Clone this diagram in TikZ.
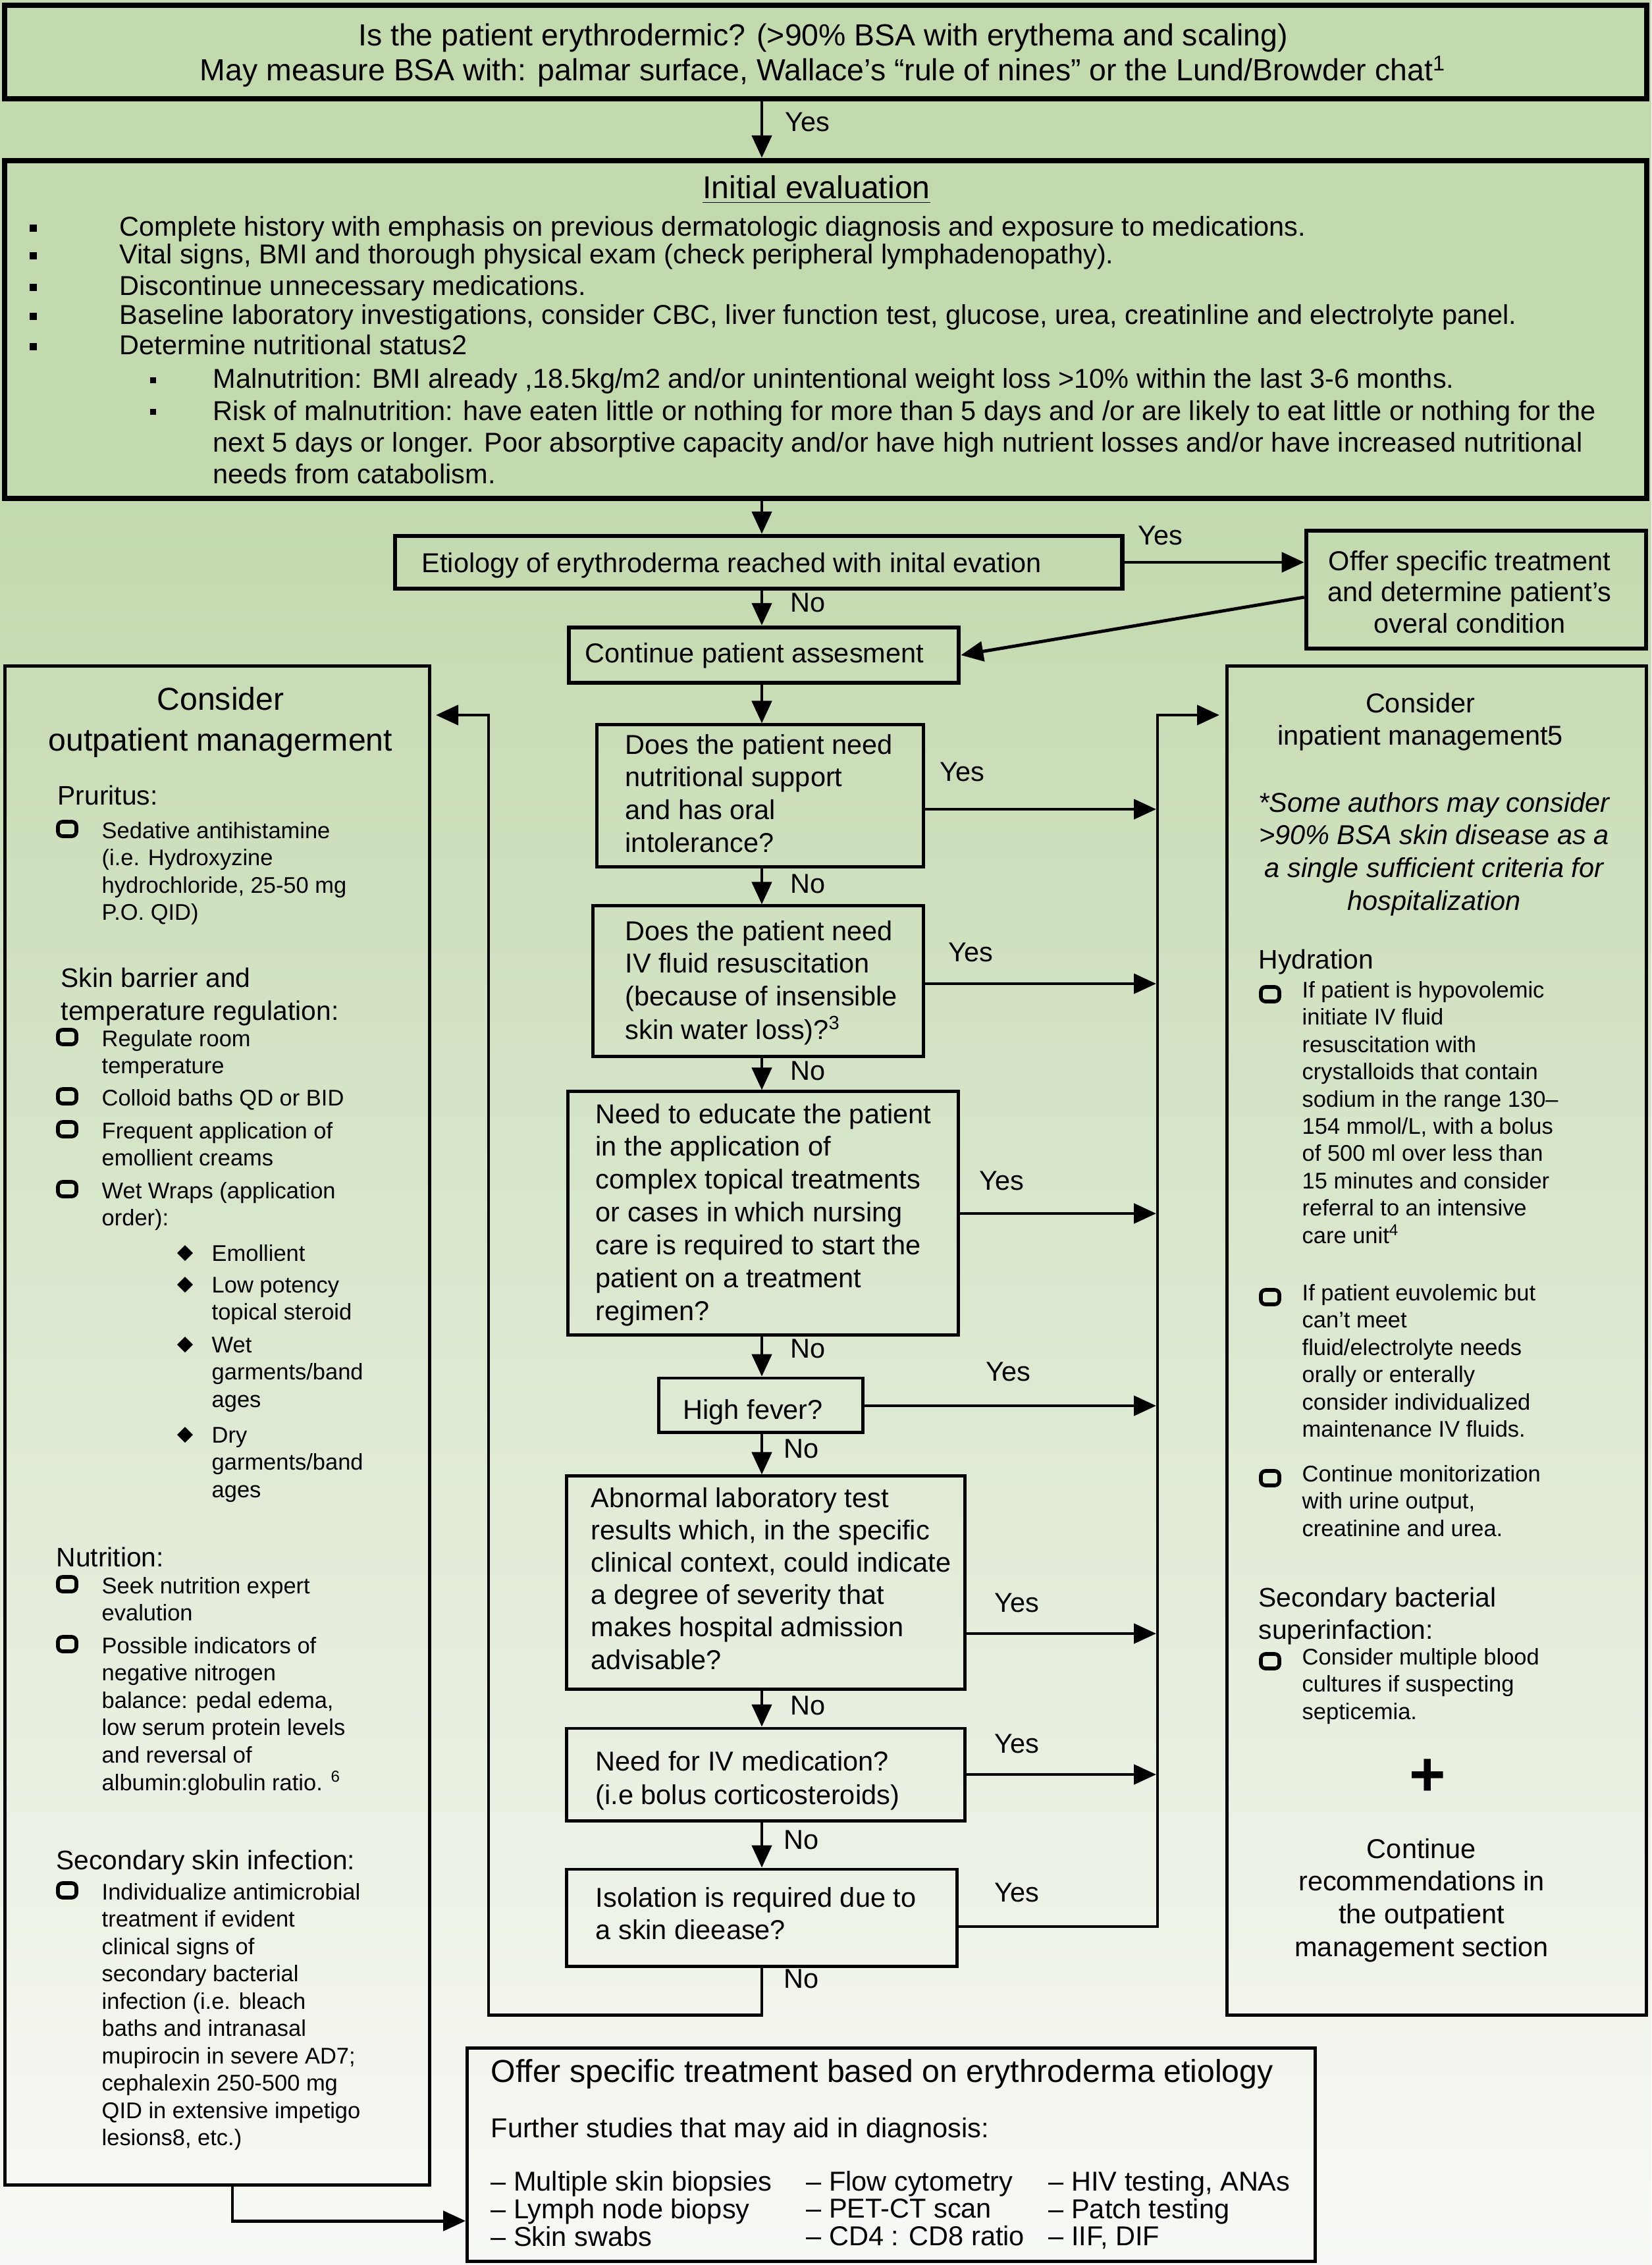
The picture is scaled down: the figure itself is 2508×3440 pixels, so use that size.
\documentclass[tikz,border=0pt]{standalone}
\usepackage{fontspec}
\setmainfont{Liberation Sans}
\usetikzlibrary{arrows.meta}
\definecolor{bgtop}{RGB}{195,217,174}
\definecolor{bgbot}{RGB}{248,249,246}
\newcommand\fTop{\fontsize{13.2}{14.2}\selectfont}
\newcommand\fMain{\fontsize{11.8}{14.2}\selectfont}
\newcommand\fInit{\fontsize{11.8}{13.6}\selectfont}
\newcommand\fSmall{\fontsize{9.8}{11.8}\selectfont}
\newcommand\fHead{\fontsize{11.6}{14.4}\selectfont}
\newcommand\fTitle{\fontsize{13.7}{17.9}\selectfont}
\newcommand\ml[1]{\begin{tabular}[t]{@{}l@{}}#1\end{tabular}}
\newcommand\mlc[1]{\begin{tabular}[t]{@{}c@{}}#1\end{tabular}}
\newcommand\cbx[2]{\draw[line width=1.6pt, rounded corners=2pt] (#1,#2) ++(-14,-11) rectangle ++(28,22);}
\newcommand\dmd[2]{\fill (#1,#2) ++(0,-12) -- ++(12,12) -- ++(-12,12) -- ++(-12,-12) -- cycle;}
\newcommand\sqb[2]{\fill (#1,#2) ++(-5.5,-5.5) rectangle ++(11,11);}
\newcommand\sqs[2]{\fill (#1,#2) ++(-4.5,-4.5) rectangle ++(9,9);}
\begin{document}
\begin{tikzpicture}[x=0.01cm,y=-0.01cm,
  bigbox/.style={draw=black, line width=2.4pt, inner sep=0pt},
  midbox/.style={draw=black, line width=1.8pt, inner sep=0pt},
  box/.style={draw=black, line width=1.4pt, inner sep=0pt},
  arr/.style={line width=1.4pt, -{Triangle[length=0.34cm,width=0.30cm]}},
  lbl/.style={font=\fMain, inner sep=0pt, anchor=mid west},
  txt/.style={inner sep=0pt, anchor=base west},
  ctxt/.style={inner sep=0pt, anchor=base},
  line/.style={inner sep=0pt, anchor=mid west},
]
\useasboundingbox (0,0) rectangle (2508,3440);
% background
\fill[bgtop] (0,0) rectangle (2508,760);
\shade[top color=bgtop, bottom color=bgbot] (0,760) rectangle (2508,3440);

% ---------- boxes ----------
\node[bigbox, minimum width=24.92cm, minimum height=1.42cm] (top) at (1254,79) {};
\node[bigbox, minimum width=24.92cm, minimum height=5.13cm] (init) at (1254,500.5) {};
\node[midbox, minimum width=11.04cm, minimum height=0.80cm] (etiol) at (1152,854) {};
\node[midbox, minimum width=5.16cm, minimum height=1.79cm] (offer) at (2242,895.5) {};
\node[midbox, minimum width=5.92cm, minimum height=0.84cm] (cont) at (1160,995) {};
\node[box, minimum width=6.44cm, minimum height=23.06cm] (left) at (330,2165) {};
\node[box, minimum width=6.36cm, minimum height=20.48cm] (right) at (2182,2036) {};
\node[box, minimum width=4.95cm, minimum height=2.15cm] (q1) at (1154.5,1208.5) {};
\node[box, minimum width=5.01cm, minimum height=2.28cm] (q2) at (1151.5,1490) {};
\node[box, minimum width=5.92cm, minimum height=3.69cm] (q3) at (1159,1842.5) {};
\node[box, minimum width=3.09cm, minimum height=0.82cm] (fever) at (1155.5,2134) {};
\node[box, minimum width=6.04cm, minimum height=3.23cm] (abn) at (1163,2403.5) {};
\node[box, minimum width=6.04cm, minimum height=1.40cm] (iv) at (1163,2695) {};
\node[box, minimum width=5.92cm, minimum height=1.47cm] (iso) at (1157,2912.5) {};
\node[box, minimum width=12.87cm, minimum height=3.23cm] (bottom) at (1353.5,3272.5) {};

% ---------- top texts ----------
\node[ctxt, font=\fTop] (topT) at (1250,70) {\mlc{Is the patient erythrodermic? (>90\% BSA with erythema and scaling)\\May measure BSA with: palmar surface, Wallace’s “rule of nines” or the Lund/Browder chat\textsuperscript{1}}};

\node[ctxt, font=\fTitle] (ieT) at (1240,302) {\underline{Initial evaluation}};
\sqb{50}{347}\sqb{50}{389}\sqb{50}{437}\sqb{50}{481}\sqb{50}{527}
\node[line, font=\fInit] (ie1) at (181,349) {Complete history with emphasis on previous dermatologic diagnosis and exposure to medications.};
\node[line, font=\fInit] (ie2) at (181,391) {Vital signs, BMI and thorough physical exam (check peripheral lymphadenopathy).};
\node[line, font=\fInit] (ie3) at (181,439) {Discontinue unnecessary medications.};
\node[line, font=\fInit] (ie4) at (181,483) {Baseline laboratory investigations, consider CBC, liver function test, glucose, urea, creatinline and electrolyte panel.};
\node[line, font=\fInit] (ie5) at (181,529) {Determine nutritional status2};
\sqs{232}{578}\sqs{232}{626}
\node[line, font=\fInit] (ie6) at (323,580) {Malnutrition: BMI already ,18.5kg/m2 and/or unintentional weight loss >10\% within the last 3-6 months.};
\node[txt, font=\fInit] (ie7) at (323,639) {\ml{Risk of malnutrition: have eaten little or nothing for more than 5 days and /or are likely to eat little or nothing for the\\next 5 days or longer. Poor absorptive capacity and/or have high nutrient losses and/or have increased nutritional\\needs from catabolism.}};

% ---------- etiology row ----------
\node[line, font=\fMain] (etiolT) at (640,860) {Etiology of erythroderma reached with inital evation};
\node[ctxt, font=\fontsize{11.8}{13.6}\selectfont] (offerT) at (2232,866) {\mlc{Offer specific treatment\\and determine patient’s\\overal condition}};
\node[line, font=\fMain] (contT) at (888,997) {Continue patient assesment};

% ---------- center question texts ----------
\node[txt, font=\fMain] (q1T) at (949,1145) {\ml{Does the patient need\\nutritional support\\and has oral\\intolerance?}};
\node[txt, font=\fMain] (q2T) at (949,1428) {\ml{Does the patient need\\IV fluid resuscitation\\(because of insensible\\skin water loss)?\textsuperscript{3}}};
\node[txt, font=\fMain] (q3T) at (904,1706) {\ml{Need to educate the patient\\in the application of\\complex topical treatments\\or cases in which nursing\\care is required to start the\\patient on a treatment\\regimen?}};
\node[line, font=\fMain] (feverT) at (1037,2146) {High fever?};
\node[txt, font=\fontsize{11.8}{14}\selectfont] (abnT) at (897,2289) {\ml{Abnormal laboratory test\\results which, in the specific\\clinical context, could indicate\\a degree of severity that\\makes hospital admission\\advisable?}};
\node[txt, font=\fontsize{11.8}{14.5}\selectfont] (ivT) at (904,2689) {\ml{Need for IV medication?\\(i.e bolus corticosteroids)}};
\node[txt, font=\fontsize{11.8}{14}\selectfont] (isoT) at (904,2896) {\ml{Isolation is required due to\\a skin dieease?}};

% ---------- left column ----------
\node[ctxt, font=\fTitle] (ltT) at (335,1078) {\mlc{Consider\\outpatient managerment}};
\node[txt, font=\fHead] (lp) at (87,1222) {Pruritus:};
\cbx{102}{1259}
\node[txt, font=\fSmall] (lp1) at (154,1273) {\ml{Sedative antihistamine\\(i.e. Hydroxyzine\\hydrochloride, 25-50 mg\\P.O. QID)}};
\node[txt, font=\fHead] (ls) at (92,1499) {\ml{Skin barrier and\\temperature regulation:}};
\cbx{102}{1575}
\node[txt, font=\fSmall] (ls1) at (154,1589) {\ml{Regulate room\\temperature}};
\cbx{102}{1665}
\node[txt, font=\fSmall] (ls2) at (154,1679) {Colloid baths QD or BID};
\cbx{102}{1715}
\node[txt, font=\fSmall] (ls3) at (154,1729) {\ml{Frequent application of\\emollient creams}};
\cbx{102}{1806}
\node[txt, font=\fSmall] (ls4) at (154,1820) {\ml{Wet Wraps (application\\order):}};
\dmd{281}{1903}
\node[txt, font=\fSmall] (lw1) at (321,1915) {Emollient};
\dmd{281}{1951}
\node[txt, font=\fSmall] (lw2) at (321,1963) {\ml{Low potency\\topical steroid}};
\dmd{281}{2042}
\node[txt, font=\fSmall] (lw3) at (321,2054) {\ml{Wet\\garments/band\\ages}};
\dmd{281}{2179}
\node[txt, font=\fSmall] (lw4) at (321,2191) {\ml{Dry\\garments/band\\ages}};
\node[txt, font=\fHead] (ln) at (85,2379) {Nutrition:};
\cbx{102}{2406}
\node[txt, font=\fSmall] (ln1) at (154,2420) {\ml{Seek nutrition expert\\evalution}};
\cbx{102}{2497}
\node[txt, font=\fSmall] (ln2) at (154,2511) {\ml{Possible indicators of\\negative nitrogen\\balance: pedal edema,\\low serum protein levels\\and reversal of\\albumin:globulin ratio. \textsuperscript{6}}};
\node[txt, font=\fHead] (lsi) at (85,2839) {Secondary skin infection:};
\cbx{102}{2871}
\node[txt, font=\fSmall] (lsi1) at (154,2885) {\ml{Individualize antimicrobial\\treatment if evident\\clinical signs of\\secondary bacterial\\infection (i.e. bleach\\baths and intranasal\\mupirocin in severe AD7;\\cephalexin 250-500 mg\\QID in extensive impetigo\\lesions8, etc.)}};

% ---------- right column ----------
\node[ctxt, font=\fMain] (rtT) at (2157,1082) {\mlc{Consider\\inpatient management5}};
\node[ctxt, font=\fMain\itshape] (riT) at (2178,1233) {\mlc{*Some authors may consider\\>90\% BSA skin disease as a\\a single sufficient criteria for\\hospitalization}};
\node[txt, font=\fHead] (rh) at (1911,1471) {Hydration};
\cbx{1929}{1510}
\node[txt, font=\fSmall] (rh1) at (1977,1515) {\ml{If patient is hypovolemic\\initiate IV fluid\\resuscitation with\\crystalloids that contain\\sodium in the range 130–\\154 mmol/L, with a bolus\\of 500 ml over less than\\15 minutes and consider\\referral to an intensive\\care unit\textsuperscript{4}}};
\cbx{1929}{1970}
\node[txt, font=\fSmall] (rh2) at (1977,1975) {\ml{If patient euvolemic but\\can’t meet\\fluid/electrolyte needs\\orally or enterally\\consider individualized\\maintenance IV fluids.}};
\cbx{1929}{2245}
\node[txt, font=\fSmall] (rh3) at (1977,2250) {\ml{Continue monitorization\\with urine output,\\creatinine and urea.}};
\node[txt, font=\fontsize{11.6}{14}\selectfont] (rs) at (1911,2440) {\ml{Secondary bacterial\\superinfaction:}};
\cbx{1929}{2523}
\node[txt, font=\fSmall] (rs1) at (1977,2528) {\ml{Consider multiple blood\\cultures if suspecting\\septicemia.}};
\node[inner sep=0pt, font=\fontsize{27}{27}\selectfont\bfseries] (plus) at (2168,2700) {+};
\node[ctxt, font=\fMain] (rcT) at (2159,2822) {\mlc{Continue\\recommendations in\\the outpatient\\management section}};

% ---------- bottom box ----------
\node[line, font=\fontsize{13.7}{16}\selectfont] (botT) at (745,3153) {Offer specific treatment based on erythroderma etiology};
\node[line, font=\fMain] (botS) at (745,3237) {Further studies that may aid in diagnosis:};
\node[txt, font=\fontsize{11.8}{11.7}\selectfont] (bc1) at (745,3327) {\ml{– Multiple skin biopsies\\– Lymph node biopsy\\– Skin swabs}};
\node[txt, font=\fontsize{11.8}{11.7}\selectfont] (bc2) at (1224,3327) {\ml{– Flow cytometry\\– PET-CT scan\\– CD4 : CD8 ratio}};
\node[txt, font=\fontsize{11.8}{11.7}\selectfont] (bc3) at (1592,3327) {\ml{– HIV testing, ANAs\\– Patch testing\\– IIF, DIF}};

% ---------- connector coordinates ----------
\coordinate (axis) at (1157,0);
\coordinate (o1) at (1984,907);
\coordinate (r1) at (1756,1229);
\coordinate (r2) at (1756,1494);
\coordinate (r3) at (1756,1843);
\coordinate (r4) at (1756,2135);
\coordinate (r5) at (1756,2481);
\coordinate (r6) at (1756,2695);
\coordinate (rbot) at (1758,2926);
\coordinate (rtop) at (1758,1086);
\coordinate (rin) at (1852,1086);
\coordinate (lbot) at (742,3060);
\coordinate (ltop) at (742,1086);
\coordinate (lin) at (662,1086);
\coordinate (lb) at (353,3373);

% ---------- connectors ----------
\draw[arr] (top.south -| axis) -- (init.north -| axis);
\draw[arr] (init.south -| axis) -- (etiol.north -| axis);
\draw[arr] (etiol.east) -- (offer.west |- etiol.east);
\draw[arr] (etiol.south -| axis) -- (cont.north -| axis);
\draw[arr] (offer.west |- o1) -- (cont.east);
\draw[arr] (cont.south -| axis) -- (q1.north -| axis);
\draw[arr] (q1.south -| axis) -- (q2.north -| axis);
\draw[arr] (q2.south -| axis) -- (q3.north -| axis);
\draw[arr] (q3.south -| axis) -- (fever.north -| axis);
\draw[arr] (fever.south -| axis) -- (abn.north -| axis);
\draw[arr] (abn.south -| axis) -- (iv.north -| axis);
\draw[arr] (iv.south -| axis) -- (iso.north -| axis);
\draw[arr] (q1.east |- r1) -- (r1);
\draw[arr] (q2.east |- r2) -- (r2);
\draw[arr] (q3.east |- r3) -- (r3);
\draw[arr] (fever.east |- r4) -- (r4);
\draw[arr] (abn.east |- r5) -- (r5);
\draw[arr] (iv.east |- r6) -- (r6);
\draw[arr, line join=miter] (iso.east |- rbot) -- (rbot) -- (rtop) -- (rin);
\draw[arr, line join=miter] (iso.south -| axis) -- (axis |- lbot) -- (lbot) -- (ltop) -- (lin);
\draw[arr, line join=miter] (left.south -| lb) -- (lb) -- (bottom.west |- lb);

% ---------- labels ----------
\node[lbl] (yTop) at (1192,190) {Yes};
\node[lbl] (yEt) at (1728,818) {Yes};
\node[lbl] (y1) at (1427,1177) {Yes};
\node[lbl] (y2) at (1440,1451) {Yes};
\node[lbl] (y3) at (1487,1798) {Yes};
\node[lbl] (y4) at (1497,2088) {Yes};
\node[lbl] (y5) at (1510,2439) {Yes};
\node[lbl] (y6) at (1510,2653) {Yes};
\node[lbl] (y7) at (1510,2879) {Yes};
\node[lbl] (n0) at (1200,920) {No};
\node[lbl] (n1) at (1200,1347) {No};
\node[lbl] (n2) at (1200,1631) {No};
\node[lbl] (n3) at (1200,2053) {No};
\node[lbl] (n4) at (1190,2205) {No};
\node[lbl] (n5) at (1200,2595) {No};
\node[lbl] (n6) at (1190,2799) {No};
\node[lbl] (n7) at (1190,3010) {No};
\end{tikzpicture}
\end{document}
